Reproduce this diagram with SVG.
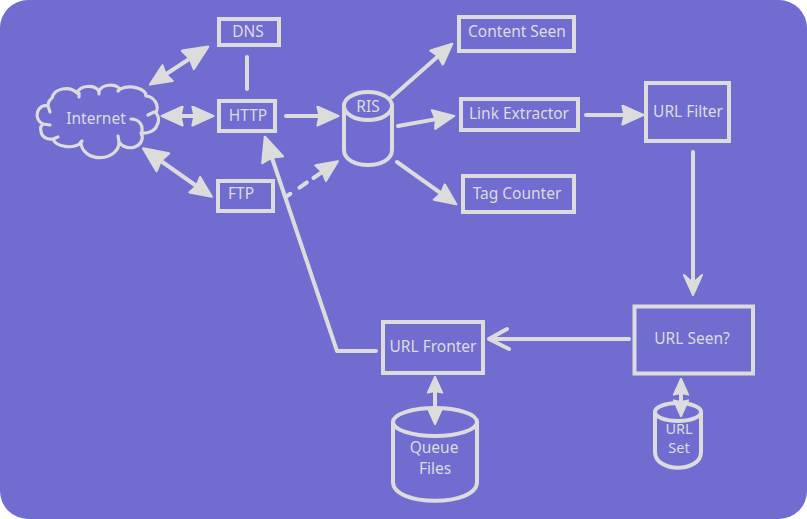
<svg xmlns="http://www.w3.org/2000/svg" width="807" height="519" viewBox="0 0 807 519">
<style>
.b{fill:none;stroke:#dcdcdc;stroke-width:4}
.l{fill:none;stroke:#dcdcdc;stroke-width:4;stroke-linecap:round;stroke-linejoin:round}
.c{fill:none;stroke:#dcdcdc;stroke-width:3.2;stroke-linecap:round;stroke-linejoin:round}
.a{fill:#dcdcdc;stroke:#dcdcdc;stroke-width:2;stroke-linejoin:round}
text{font-family:"Noto Sans","Open Sans",sans-serif;font-size:15.5px;fill:#dcdcdc;text-anchor:middle}
.s{font-size:14.5px}
</style>
<defs>
<marker id="m" viewBox="-1 -1 22 20" refX="12" refY="9" markerWidth="24" markerHeight="21" markerUnits="userSpaceOnUse" orient="auto-start-reverse"><path d="M0 0 L20 9 L0 18 L2 9 Z" class="a"/></marker>
<marker id="big" viewBox="-1 -1 22 20" refX="12" refY="9" markerWidth="27" markerHeight="24" markerUnits="userSpaceOnUse" orient="auto-start-reverse"><path d="M0 0 L20 9 L0 18 L2 9 Z" class="a"/></marker>
<marker id="small" viewBox="-1 -1 22 20" refX="12" refY="9" markerWidth="18" markerHeight="17" markerUnits="userSpaceOnUse" orient="auto-start-reverse"><path d="M0 0 L20 9 L0 18 L2 9 Z" class="a"/></marker>
</defs>
<rect width="807" height="519" fill="#ffffff"/>
<rect width="807" height="519" rx="28" fill="#706cd0"/>
<g id="connectors">
<line class="l" x1="157" y1="80" x2="200" y2="52" marker-start="url(#m)" marker-end="url(#big)"/>
<line class="l" x1="247" y1="57" x2="247" y2="89"/>
<line class="l" x1="170" y1="116" x2="205" y2="116" marker-start="url(#m)" marker-end="url(#m)"/>
<line class="l" x1="151" y1="154" x2="205" y2="192" marker-start="url(#big)" marker-end="url(#m)"/>
<line class="l" x1="286" y1="116" x2="330" y2="116" marker-end="url(#m)"/>
<path class="l" d="M287 196 L331 166" stroke-dasharray="4 11 9 8 14" marker-end="url(#m)"/>
<path class="l" d="M392 97 L446 49.3" marker-end="url(#m)"/>
<path class="l" d="M398 126 L446 117.4" marker-end="url(#m)"/>
<path class="l" d="M397 162 L449.5 199.4" marker-end="url(#m)"/>
<path class="l" d="M586 115 L635 115" marker-end="url(#m)"/>
<path class="l" d="M693 152 L693 288"/>
<path class="a" d="M684 275 L693 295 L702 275 L693 283 Z"/>
<path class="l" d="M629 339 L489 339 M507 329 L489 339 L509 349"/>
<path class="l" d="M376 351 L337 351 L268 146" marker-end="url(#big)"/>
<line class="l" x1="435" y1="383" x2="435" y2="418" marker-start="url(#small)" marker-end="url(#small)"/>
<line class="l" x1="681" y1="385" x2="681" y2="410" marker-start="url(#small)" marker-end="url(#small)"/>
</g>
<g id="internet"><path class="c" d="M48 106 A10 10 0 0 1 52 98 A14 11 0 0 1 77 93 A12 9 0 0 1 99 91 A12 9 0 0 1 120 89 A16 9 0 0 1 146 96 A12 12 0 0 1 156 113 A8 9 0 0 1 157 125 A14 10 0 0 1 141 133 A12 10 0 0 1 119 142 A15 12 0 0 1 81 143 A16 10 0 0 1 53 139 A10 8 0 0 1 41 131 A8 7 0 0 1 43 124 A8 9 0 0 1 48 106 Z M131 119 C138 119 143 124 142 131 M148 115 L154 112 M48 106 L50 112 M43 124 L50 125 M53 139 L58 137 M80 143 L82 141 M119 142 L118 136 M79 93 L79 97 M99 91 L99 94 M120 89 L118 91"/><text x="96" y="124">Internet</text></g>
<g id="dns"><rect class="b" x="219" y="19" width="60" height="26"/><text x="248" y="37">DNS</text></g>
<g id="http"><rect class="b" x="219" y="101" width="56" height="30"/><text x="248" y="121">HTTP</text></g>
<g id="ftp"><rect class="b" x="218" y="181" width="55" height="30"/><text x="241" y="199">FTP</text></g>
<g id="ris"><path class="b" d="M344 106 V150 C344 170 392 170 392 150 V106"/><ellipse class="b" cx="368" cy="106" rx="24" ry="14"/><text x="368" y="112">RIS</text></g>
<g id="content-seen"><rect class="b" x="459" y="17" width="115" height="34"/><text x="517" y="37">Content Seen</text></g>
<g id="link-extractor"><rect class="b" x="461" y="99" width="117" height="31"/><text x="519" y="119">Link Extractor</text></g>
<g id="tag-counter"><rect class="b" x="463" y="176" width="111" height="36"/><text x="517" y="199">Tag Counter</text></g>
<g id="url-filter"><rect class="b" x="646" y="83" width="83" height="58"/><text x="688" y="117">URL Filter</text></g>
<g id="url-seen"><rect class="b" x="634.500" y="306.500" width="118.500" height="67"/><text x="692" y="344">URL Seen?</text></g>
<g id="url-fronter"><rect class="b" x="383" y="322" width="100" height="51"/><text x="433" y="352">URL Fronter</text></g>
<g id="queue-files"><path class="b" d="M393 422 V482 C393 507 477 507 477 482 V422"/><ellipse class="b" cx="435" cy="422" rx="42" ry="14"/><text x="434" y="453">Queue</text><text x="435" y="474">Files</text></g>
<g id="url-set"><path class="b" d="M655 412 V452 C655 473 701 473 701 452 V412"/><ellipse class="b" cx="678" cy="412" rx="23" ry="9"/><text class="s" x="679" y="434">URL</text><text class="s" x="679" y="453">Set</text></g>
</svg>
